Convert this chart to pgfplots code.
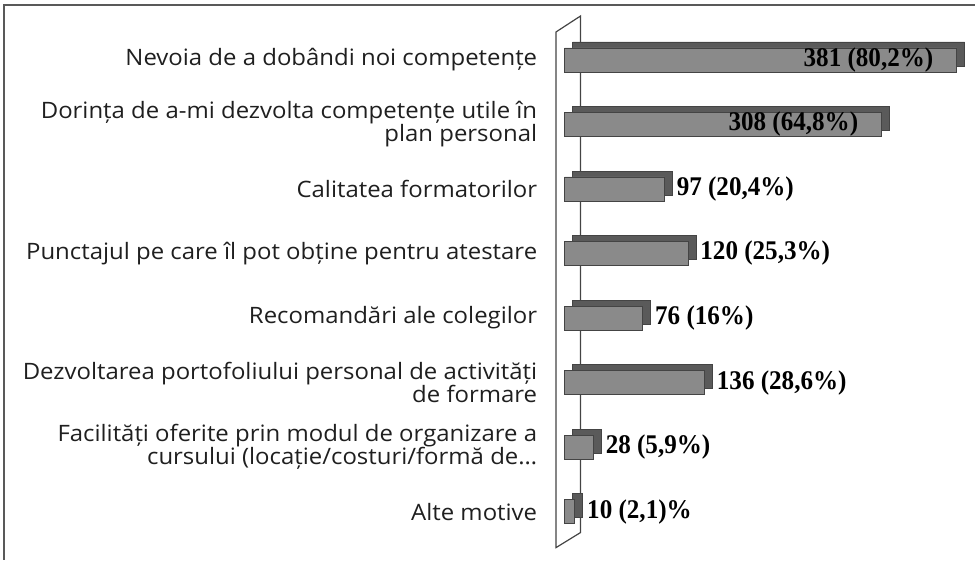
\documentclass[border=0pt]{standalone}
\usepackage{fontspec}
\setmainfont{Open Sans}[FakeStretch=1.06]
\newfontfamily\valfont{Liberation Serif Bold}[FakeStretch=0.93]
\usepackage{pgfplots}
\pgfplotsset{compat=1.18}
\usepackage{pgfplotstable}
\definecolor{barfront}{HTML}{8A8A8A}
\definecolor{barside}{HTML}{5A5A5A}
\definecolor{edge}{HTML}{444444}

% v = number of answers, i = row (0 = top)
\pgfplotstableread{
v   i lab
381 0 {381 (80,2\%)}
308 1 {308 (64,8\%)}
97  2 {97 (20,4\%)}
120 3 {120 (25,3\%)}
76  4 {76 (16\%)}
136 5 {136 (28,6\%)}
28  6 {28 (5,9\%)}
10  7 {10 (2,1)\%}
}\motive

\begin{document}
\begin{tikzpicture}
\begin{axis}[
  scale only axis, width=488pt, height=280pt,
  xmin=-548.5, xmax=399, ymin=-0.929, ymax=7.743, y dir=reverse,
  xbar, bar width=12pt, bar shift=0pt,
  axis line style={draw=none}, xtick=\empty,
  ytick={0,...,7}, major tick length=0pt, ytick style={draw=none},
  yticklabels={
    {Nevoia de a dobândi noi competențe},
    {Dorința de a-mi dezvolta competențe utile în\\plan personal},
    {Calitatea formatorilor},
    {Punctajul pe care îl pot obține pentru atestare},
    {Recomandări ale colegilor},
    {Dezvoltarea portofoliului personal de activități\\de formare},
    {Facilități oferite prin modul de organizare a\\cursului (locație/costuri/formă de…},
    {Alte motive}},
  yticklabel style={anchor=east, align=right, inner sep=0pt, xshift=269pt,
    font=\fontsize{11.3}{11.6}\selectfont, text=black!88},
  every node near coord/.append style={inner sep=0pt, text=black,
    font=\valfont\fontsize{13.5}{14}\selectfont},
  clip=false,
]
% frame
\draw[black!65, line width=0.8pt] (axis cs:-544.7,7.743) |- (axis cs:399,-0.852);
% wall
\draw[edge, line width=0.6pt] (axis cs:-8.25,7.558) -- (axis cs:-8.25,-0.434)
  -- (axis cs:15.5,-0.681) -- (axis cs:15.5,7.325) -- cycle;
% depth of the bars
\addplot[fill=barside, draw=edge, line width=0.4pt, xshift=4pt, yshift=3pt, forget plot]
  table[x=v, y=i] {\motive};
% front of the bars
\addplot[fill=barfront, draw=edge, line width=0.4pt, forget plot]
  table[x=v, y=i] {\motive};
% value labels inside the two long bars
\addplot[draw=none, fill=none, forget plot, restrict y to domain=-0.5:1.5,
  nodes near coords, point meta=explicit symbolic,
  nodes near coords style={anchor=east, xshift=-11.5pt}]
  table[x=v, y=i, meta=lab] {\motive};
% value labels after the other bars
\addplot[draw=none, fill=none, forget plot, restrict y to domain=1.5:7.5,
  nodes near coords, point meta=explicit symbolic,
  nodes near coords style={anchor=west, xshift=6pt}]
  table[x=v, y=i, meta=lab] {\motive};
\end{axis}
\end{tikzpicture}
\end{document}
